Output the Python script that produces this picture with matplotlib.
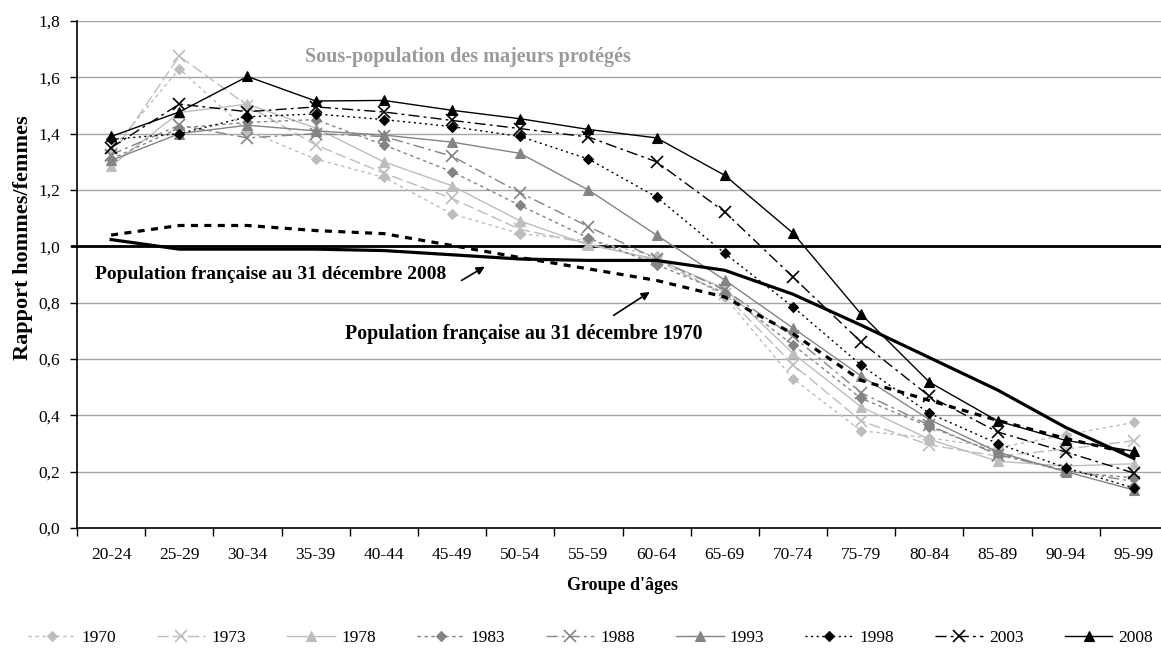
import numpy as np
import matplotlib
matplotlib.use("Agg")
import matplotlib.pyplot as plt

plt.rcParams['font.family'] = ['Liberation Serif', 'DejaVu Serif']

ages = ['20-24', '25-29', '30-34', '35-39', '40-44', '45-49', '50-54', '55-59',
        '60-64', '65-69', '70-74', '75-79', '80-84', '85-89', '90-94', '95-99']

# Sex ratio (men / women) of the protected-adults sub-population, by year
r1970 = [1.34, 1.63, 1.41, 1.31, 1.245, 1.115, 1.045, 1.02, 0.965, 0.82, 0.53, 0.345, 0.32, 0.285, 0.33, 0.375]
r1973 = [1.32, 1.675, 1.50, 1.36, 1.26, 1.17, 1.06, 1.01, 0.95, 0.83, 0.58, 0.38, 0.295, 0.255, 0.28, 0.31]
r1978 = [1.285, 1.475, 1.505, 1.42, 1.30, 1.215, 1.09, 1.005, 0.955, 0.85, 0.62, 0.43, 0.315, 0.237, 0.22, 0.228]
r1983 = [1.31, 1.42, 1.44, 1.45, 1.36, 1.265, 1.145, 1.03, 0.935, 0.835, 0.65, 0.46, 0.36, 0.265, 0.20, 0.178]
r1988 = [1.325, 1.43, 1.385, 1.40, 1.39, 1.32, 1.19, 1.07, 0.955, 0.845, 0.68, 0.48, 0.365, 0.26, 0.205, 0.165]
r1993 = [1.305, 1.40, 1.43, 1.41, 1.395, 1.37, 1.33, 1.20, 1.04, 0.88, 0.71, 0.54, 0.385, 0.27, 0.20, 0.135]
r1998 = [1.38, 1.40, 1.46, 1.47, 1.45, 1.425, 1.39, 1.31, 1.175, 0.975, 0.785, 0.578, 0.407, 0.30, 0.214, 0.142]
r2003 = [1.35, 1.505, 1.478, 1.495, 1.477, 1.447, 1.418, 1.388, 1.30, 1.122, 0.891, 0.66, 0.468, 0.341, 0.27, 0.195]
r2008 = [1.39, 1.477, 1.603, 1.516, 1.518, 1.483, 1.453, 1.415, 1.385, 1.252, 1.047, 0.759, 0.518, 0.38, 0.311, 0.273]

# Whole French population
pop2008 = [1.024, 0.99, 0.99, 0.99, 0.985, 0.97, 0.955, 0.95, 0.95, 0.915, 0.83, 0.72, 0.605, 0.49, 0.357, 0.247]
pop1970 = [1.04, 1.074, 1.074, 1.056, 1.045, 1.003, 0.96, 0.92, 0.879, 0.82, 0.69, 0.524, 0.453, 0.382, 0.318, 0.262]

LIGHT = '#BDBDBD'
MID = '#848484'
DARK = '#000000'

series = [
    ('1970', r1970, LIGHT, (2.5, 2.5), 'D', 5.5),
    ('1973', r1973, LIGHT, (8, 3), 'x', 9),
    ('1978', r1978, LIGHT, None, '^', 7.5),
    ('1983', r1983, MID, (2.5, 2.5), 'D', 5.5),
    ('1988', r1988, MID, (8, 3, 2, 3), 'x', 9),
    ('1993', r1993, MID, None, '^', 7.5),
    ('1998', r1998, DARK, (1.5, 2.5), 'D', 5.5),
    ('2003', r2003, DARK, (8, 3, 2, 3), 'x', 9),
    ('2008', r2008, DARK, None, '^', 7.5),
]

fig = plt.figure(figsize=(11.61, 6.57), dpi=100)
ax = fig.add_axes([77 / 1161, 1 - 528 / 657, (1168 - 77) / 1161, (528 - 21) / 657])

x = np.arange(len(ages))
handles = []
for label, vals, col, dash, mk, ms in series:
    kw = dict(color=col, lw=1.0, marker=mk, markersize=ms, markerfacecolor=col,
              markeredgecolor=col, markeredgewidth=1.2 if mk == 'x' else 0.8, zorder=3)
    line, = ax.plot(x, vals, label=label, **kw)
    if dash is not None:
        line.set_dashes(dash)
    handles.append(line)

ax.plot(x, pop2008, color='black', lw=2.3, zorder=4, solid_joinstyle='round')
p70, = ax.plot(x, pop1970, color='black', lw=2.3, zorder=4)
p70.set_dashes((2.2, 2.0))

ax.axhline(1.0, xmin=-0.005, color='black', lw=2.0, zorder=2, clip_on=False)

ax.set_xlim(-0.5, len(ages) - 0.5)
ax.set_ylim(0, 1.8)
yt = np.round(np.arange(0, 1.81, 0.2), 1)
ax.set_yticks(yt)
ax.set_yticklabels([f"{v:.1f}".replace('.', ',') for v in yt], fontsize=12.5)
ax.yaxis.grid(True, color='#A6A6A6', lw=1.0, zorder=0)
ax.set_axisbelow(True)

ax.set_xticks(x)
ax.set_xticklabels(ages, fontsize=12.5)
ax.set_xticks(np.arange(-0.5, len(ages)), minor=True)
ax.tick_params(axis='x', which='major', length=0, pad=14)
ax.tick_params(axis='x', which='minor', length=6, width=1.0, direction='out')
ax.tick_params(axis='y', length=5, width=1.0, pad=7)

for s in ('top', 'right'):
    ax.spines[s].set_visible(False)
for s in ('left', 'bottom'):
    ax.spines[s].set_linewidth(1.2)

fig.text(23 / 1161, 1 - 238 / 657, 'Rapport hommes/femmes', rotation=90,
         fontsize=16, fontweight='bold', ha='center', va='center')
ax.set_xlabel("Groupe d'âges", fontsize=13, fontweight='bold', labelpad=10)

ax.text(5.23, 1.672, 'Sous-population des majeurs protégés', color='#9A9A9A',
        fontsize=14.5, fontweight='bold', ha='center', va='center')

ax.text(-0.24, 0.90, 'Population française au 31 décembre 2008', fontsize=14,
        fontweight='bold', ha='left', va='center')
ax.annotate('', xy=(5.48, 0.928), xytext=(5.14, 0.879),
            arrowprops=dict(arrowstyle='-|>', color='black', lw=1.2, mutation_scale=12,
                            shrinkA=0, shrinkB=0))

ax.text(3.43, 0.688, 'Population française au 31 décembre 1970', fontsize=14.3,
        fontweight='bold', ha='left', va='center')
ax.annotate('', xy=(7.90, 0.838), xytext=(7.37, 0.755),
            arrowprops=dict(arrowstyle='-|>', color='black', lw=1.2, mutation_scale=12,
                            shrinkA=0, shrinkB=0))

fig.legend(handles=handles, labels=[s[0] for s in series], loc='center',
           bbox_to_anchor=(590.5 / 1161, 1 - 638 / 657), ncol=9, frameon=False,
           fontsize=12.5, handlelength=2.76, handletextpad=0.35, columnspacing=2.36)

fig.savefig('out.png', dpi=100)
